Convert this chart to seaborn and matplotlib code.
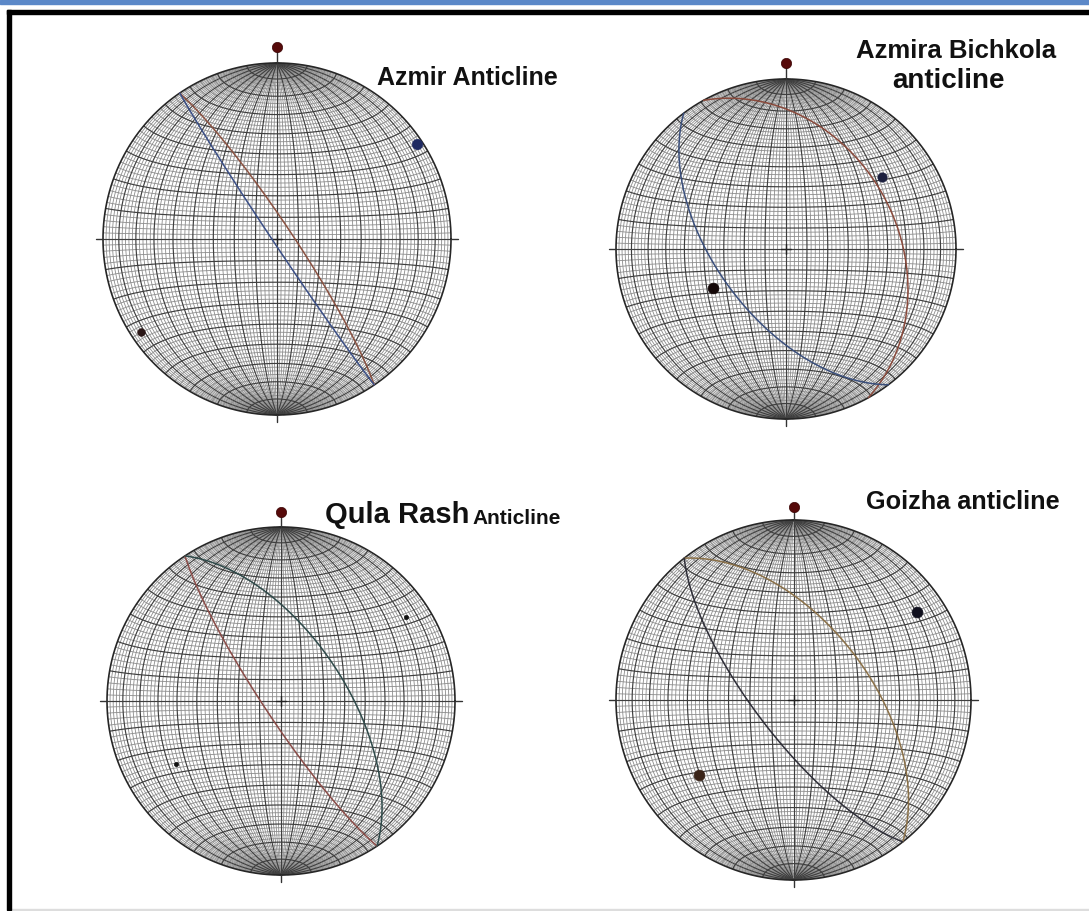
import numpy as np
import pandas as pd
import matplotlib
matplotlib.use("Agg")
import matplotlib.pyplot as plt
from matplotlib.collections import LineCollection
from matplotlib.patches import Rectangle
import seaborn as sns

sns.set_theme(style="white")
plt.rcParams['font.family'] = ['Liberation Sans', 'DejaVu Sans']

# ---- structural data (degrees) ----
panel_names = ["Azmir", "Azmira Bichkola", "Qula Rash", "Goizha"]
# limb A / limb B great circles as dip direction and dip
limb_a_dipdir = [56, 61, 236.5, 52]
limb_a_dip = [83, 35, 82, 55]
limb_b_dipdir = [236, 233, 56.5, 232]
limb_b_dip = [88, 57, 60, 73]
# plotted poles as trend and plunge
pole_a_trend = [236, 242, 239, 232]
pole_a_plunge = [6.4, 50, 30, 33]
pole_b_trend = [56, 53, 56, 55]
pole_b_plunge = [3.4, 30, 14.6, 16]

# ---- styling ----
limb_a_color = ["#8a5242", "#8a4a3c", "#8a4c48", "#8a7048"]
limb_b_color = ["#3b4f86", "#3a4f7c", "#2f4a4a", "#2e2e38"]
pole_a_color = ["#2a1616", "#140808", "#111111", "#3a2418"]
pole_b_color = ["#1f2a62", "#1c1f3e", "#111111", "#10101e"]
pole_a_size = [30, 60, 9, 60]
pole_b_size = [55, 45, 9, 60]
north_offset = [0.09, 0.092, 0.088, 0.07]

# net centre (px), radii (px)
centres = [(277, 239), (786, 249), (281, 701), (793.5, 700)]
radii = [(174, 176), (170, 170), (174, 174), (177.5, 180)]

W, H = 1089, 911
fig = plt.figure(figsize=(W / 100, H / 100), dpi=100)
fig.patch.set_facecolor("white")


def schmidt(e, n, d):
    s = 1.0 / np.sqrt(1.0 + d)
    return e * s, n * s


def great_circle(dipdir, dip, npts=361):
    dd, dp = np.radians(dipdir), np.radians(dip)
    st = dd - np.pi / 2
    a = np.radians(np.linspace(0, 180, npts))
    sv = np.array([np.sin(st), np.cos(st), 0.0])
    dv = np.array([np.sin(dd) * np.cos(dp), np.cos(dd) * np.cos(dp), np.sin(dp)])
    v = np.outer(np.cos(a), sv) + np.outer(np.sin(a), dv)
    return schmidt(v[:, 0], v[:, 1], v[:, 2])


def line_point(trend, plunge):
    t, p = np.radians(trend), np.radians(plunge)
    return schmidt(np.cos(p) * np.sin(t), np.cos(p) * np.cos(t), np.sin(p))


def net_segments():
    minor, major = [], []
    for lam in range(-88, 90, 2):
        lim = 90 if lam % 10 == 0 else 88
        ph = np.radians(np.linspace(-lim, lim, 181))
        l = np.radians(lam)
        x, y = schmidt(np.cos(ph) * np.sin(l), np.sin(ph), np.cos(ph) * np.cos(l))
        (major if lam % 10 == 0 else minor).append(np.column_stack([x, y]))
    lam = np.radians(np.linspace(-90, 90, 181))
    for phi in range(-88, 90, 2):
        p = np.radians(phi)
        x, y = schmidt(np.cos(p) * np.sin(lam), np.full_like(lam, np.sin(p)),
                       np.cos(p) * np.cos(lam))
        (major if phi % 10 == 0 else minor).append(np.column_stack([x, y]))
    return minor, major


minor_segs, major_segs = net_segments()
LIM = 1.2

for i in range(4):
    cx, cy = centres[i]
    rx, ry = radii[i]
    ax = fig.add_axes([(cx - LIM * rx) / W, (H - cy - LIM * ry) / H,
                       2 * LIM * rx / W, 2 * LIM * ry / H])
    ax.set_xlim(-LIM, LIM)
    ax.set_ylim(-LIM, LIM)
    ax.axis("off")

    ax.add_collection(LineCollection(minor_segs, colors="#8c8c8c", linewidths=0.6, zorder=1))
    ax.add_collection(LineCollection(major_segs, colors="#3f3f3f", linewidths=0.85, zorder=2))
    th = np.linspace(0, 2 * np.pi, 400)
    ax.plot(np.cos(th), np.sin(th), color="#262626", lw=1.2, zorder=3)

    # ticks, north line and centre cross
    tk = dict(color="#333333", lw=1.0, zorder=3)
    ax.plot([-1.04, -1.0], [0, 0], **tk)
    ax.plot([1.0, 1.04], [0, 0], **tk)
    ax.plot([0, 0], [-1.0, -1.04], **tk)
    ax.plot([0, 0], [1.0, 1.0 + north_offset[i]], **tk)
    ax.plot([-0.03, 0.03], [0, 0], color="#222222", lw=1.0, zorder=3)
    ax.plot([0, 0], [-0.03, 0.03], color="#222222", lw=1.0, zorder=3)

    # fold limbs
    for dd, dp, col in [(limb_a_dipdir[i], limb_a_dip[i], limb_a_color[i]),
                        (limb_b_dipdir[i], limb_b_dip[i], limb_b_color[i])]:
        gx, gy = great_circle(dd, dp)
        df = pd.DataFrame({"x": gx, "y": gy})
        sns.lineplot(data=df, x="x", y="y", sort=False, estimator=None,
                     color=col, lw=1.1, ax=ax, zorder=4)

    # poles
    for tr, pl, col, sz in [(pole_a_trend[i], pole_a_plunge[i], pole_a_color[i], pole_a_size[i]),
                            (pole_b_trend[i], pole_b_plunge[i], pole_b_color[i], pole_b_size[i])]:
        px, py = line_point(tr, pl)
        sns.scatterplot(x=[px], y=[py], s=sz, color=col, edgecolor=col,
                        linewidth=0.5, ax=ax, zorder=5, legend=False)

    # north marker
    sns.scatterplot(x=[0], y=[1.0 + north_offset[i]], s=55, color="#560a0a",
                    edgecolor="#3a0505", linewidth=0.5, ax=ax, zorder=5, legend=False)
    ax.set_xlim(-LIM, LIM)
    ax.set_ylim(-LIM, LIM)
    ax.set_xlabel("")
    ax.set_ylabel("")


def ftext(x, y, s, size):
    fig.text(x / W, 1 - y / H, s, fontsize=size, fontweight="bold",
             ha="left", va="baseline", color="#111111")


ftext(377, 85, "Azmir Anticline", 18)
ftext(856, 58, "Azmira Bichkola", 18.5)
ftext(892, 88, "anticline", 20)
ftext(325, 523, "Qula Rash", 21)
ftext(472, 524, "Anticline", 15)
ftext(866, 509, "Goizha anticline", 18.2)

# page frame
fig.patches.append(Rectangle((0, 1 - 3.5 / H), 1, 3.5 / H, transform=fig.transFigure,
                             color="#5b88c8", zorder=10))
fig.patches.append(Rectangle((7 / W, 1 - 14 / H), 1 - 7 / W, 4 / H, transform=fig.transFigure,
                             color="#000000", zorder=10))
fig.patches.append(Rectangle((7 / W, 1 - 910 / H), 4 / W, 900 / H, transform=fig.transFigure,
                             color="#000000", zorder=10))
fig.patches.append(Rectangle((11 / W, 1 - 910 / H), 1 - 11 / W, 1.5 / H, transform=fig.transFigure,
                             color="#dddddd", zorder=9))

fig.savefig("out.png", dpi=100, facecolor="white")
